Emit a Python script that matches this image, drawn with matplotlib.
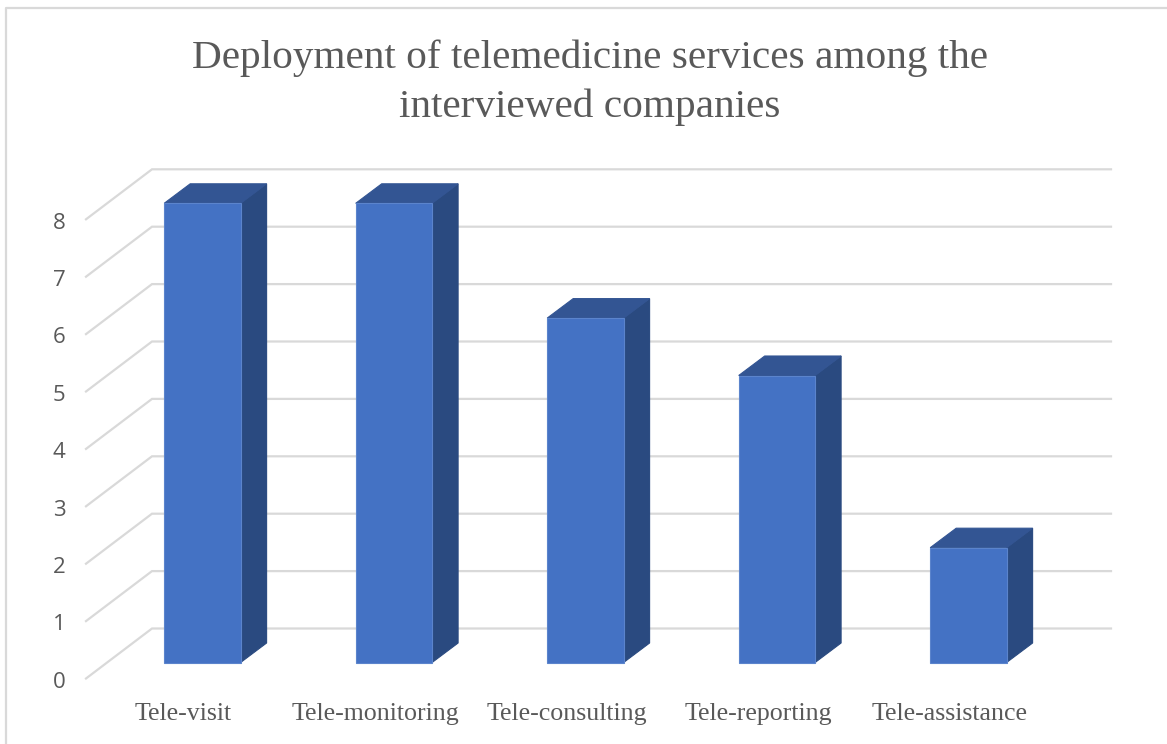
import matplotlib
matplotlib.use("Agg")
from matplotlib import pyplot as plt
from matplotlib.patches import Polygon

categories = ["Tele-visit", "Tele-monitoring", "Tele-consulting", "Tele-reporting", "Tele-assistance"]
counts = [8, 8, 6, 5, 2]
yticks = [0, 1, 2, 3, 4, 5, 6, 7, 8]

W, H = 1167, 744
xstep = 191.5   # pixels per category
ystep = 57.4    # pixels per unit
x0px = 202.4    # first bar centre
y0px = 662.5    # bar base

# depth offsets of the fake 3d, in data units
bar_half = 38.2/xstep
bar_dx = 26/xstep
bar_dy = 19.5/ystep
wall_dy = 34/ystep
wall_left = (152-x0px)/xstep
wall_right = (1111-x0px)/xstep
front_left = (86-x0px)/xstep
front_dy = -16/ystep

fig = plt.figure(figsize=(W/100, H/100), dpi=100)
ax = fig.add_axes([0, 0, 1, 1])
ax.set_xlim(-x0px/xstep, (W-x0px)/xstep)
ax.set_ylim((y0px-H)/ystep, y0px/ystep)
ax.axis("off")

# back wall gridlines and the slanted bits on the left
for v in yticks:
    ax.plot([front_left, wall_left, wall_right], [v+front_dy, v+wall_dy, v+wall_dy],
            color="#d9d9d9", lw=1.6, solid_joinstyle="miter", zorder=1)
    ax.text(front_left-0.141, v+front_dy-0.065, str(v), ha="center", va="center",
            fontsize=16, color="#595959", family="Open Sans")

# bars: side, top, front
for i, c in enumerate(counts):
    l = i-bar_half
    r = i+bar_half
    ax.add_patch(Polygon([(r, 0), (r+bar_dx, bar_dy), (r+bar_dx, c+bar_dy), (r, c)],
                         fc="#2a4a80", ec="#2a4a80", lw=0.8, zorder=2))
    ax.add_patch(Polygon([(l, c), (r, c), (r+bar_dx, c+bar_dy), (l+bar_dx, c+bar_dy)],
                         fc="#335593", ec="#335593", lw=0.8, zorder=2))
    ax.add_patch(Polygon([(l, 0), (r, 0), (r, c), (l, c)],
                         fc="#4472c4", ec="#5b84cc", lw=0.8, zorder=3))
    ax.text(i-0.099, -0.9, categories[i], ha="center", va="center",
            fontsize=18.6, color="#595959", family="Liberation Serif")

fig.text(589.5/W, 1-58/H, "Deployment of telemedicine services among the", ha="center", va="center",
         fontsize=29.7, color="#595959", family="Liberation Serif")
fig.text(589.5/W, 1-107/H, "interviewed companies", ha="center", va="center",
         fontsize=29.7, color="#595959", family="Liberation Serif")

# chart frame, only top and left are in view
fig.add_artist(plt.Line2D([6/W, 6/W, 1/1], [0, 1-8/H, 1-8/H],
                          color="#d9d9d9", lw=1.6))

fig.savefig("out.png", dpi=100)
